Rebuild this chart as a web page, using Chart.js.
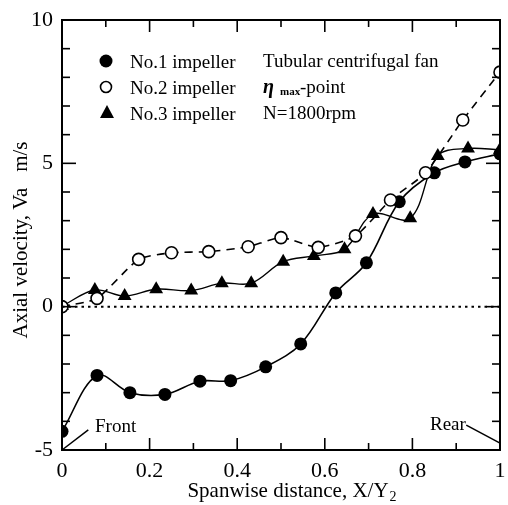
<!DOCTYPE html>
<html>
<head>
<meta charset="utf-8">
<script src="https://cdn.jsdelivr.net/npm/chart.js@4.4.1/dist/chart.umd.min.js"></script>
<style>
  html, body { margin: 0; padding: 0; background: #fff; }
  #wrap { width: 508px; height: 505px; }
</style>
</head>
<body>
<div id="wrap"><canvas id="axialChart" width="508" height="505"></canvas></div>
<script>
// spanwise position X/Y2 and axial velocity Va (m/s) for each impeller
var imp1X = [0, 0.08, 0.155, 0.235, 0.315, 0.385, 0.465, 0.545, 0.625, 0.695, 0.77, 0.85, 0.92, 1.0];
var imp1Va = [-4.35, -2.4, -3.0, -3.06, -2.6, -2.58, -2.1, -1.3, 0.48, 1.53, 3.66, 4.67, 5.05, 5.33];

var imp2X = [0, 0.08, 0.175, 0.25, 0.335, 0.425, 0.5, 0.585, 0.67, 0.75, 0.83, 0.915, 1.0];
var imp2Va = [0, 0.29, 1.65, 1.88, 1.92, 2.09, 2.41, 2.07, 2.47, 3.72, 4.67, 6.51, 8.18];

var imp3X = [0, 0.075, 0.143, 0.215, 0.295, 0.365, 0.432, 0.505, 0.575, 0.645, 0.71, 0.795, 0.858, 0.927, 1.0];
var imp3Va = [0.02, 0.58, 0.37, 0.61, 0.56, 0.82, 0.82, 1.57, 1.77, 2.0, 3.23, 3.08, 5.26, 5.52, 5.47];

var seriesNames = ["No.1 impeller", "No.2 impeller", "No.3 impeller"];
var noteLines = ["Tubular centrifugal fan", "-point", "N=1800rpm"];

// axis ticks
var xMajor = [0, 0.2, 0.4, 0.6, 0.8, 1];
var xMinor = [0.1, 0.3, 0.5, 0.7, 0.9];
var yMajor = [-5, 0, 5, 10];
var yMinor = [-4, -3, -2, -1, 1, 2, 3, 4, 6, 7, 8, 9];

// "Front" / "Rear" leader lines (data units)
var frontLead = [[0, -5], [0.06, -4.3]];
var rearLead = [[0.923, -4.13], [1.0, -4.76]];

var serif = "'Liberation Serif', 'DejaVu Serif', serif";

function toPoints(xs, ys) {
    var pts = [];
    for (var i = 0; i < xs.length; i++) {
        pts.push({ x: xs[i], y: ys[i] });
    }
    return pts;
}

function line(ctx, x1, y1, x2, y2) {
    ctx.beginPath();
    ctx.moveTo(x1, y1);
    ctx.lineTo(x2, y2);
    ctx.stroke();
}

// frame, inward ticks, legend, notes and titles
var decorations = {
    id: 'decorations',
    afterDraw: function (chart) {
        var ctx = chart.ctx;
        var a = chart.chartArea;
        var xs = chart.scales.x, ys = chart.scales.y;
        ctx.save();
        ctx.strokeStyle = '#000';
        ctx.fillStyle = '#000';

        ctx.lineWidth = 2;
        ctx.strokeRect(a.left, a.top, a.right - a.left, a.bottom - a.top);

        ctx.lineWidth = 1.6;
        xMajor.forEach(function (v) {
            var p = xs.getPixelForValue(v);
            line(ctx, p, a.bottom, p, a.bottom - 12);
            line(ctx, p, a.top, p, a.top + 12);
        });
        xMinor.forEach(function (v) {
            var p = xs.getPixelForValue(v);
            line(ctx, p, a.bottom, p, a.bottom - 7);
            line(ctx, p, a.top, p, a.top + 7);
        });
        yMajor.forEach(function (v) {
            var p = ys.getPixelForValue(v);
            line(ctx, a.left, p, a.left + 14, p);
            line(ctx, a.right, p, a.right - 14, p);
        });
        yMinor.forEach(function (v) {
            var p = ys.getPixelForValue(v);
            line(ctx, a.left, p, a.left + 8, p);
            line(ctx, a.right, p, a.right - 8, p);
        });

        // leader lines
        ctx.lineWidth = 1.5;
        [frontLead, rearLead].forEach(function (ld) {
            line(ctx, xs.getPixelForValue(ld[0][0]), ys.getPixelForValue(ld[0][1]),
                      xs.getPixelForValue(ld[1][0]), ys.getPixelForValue(ld[1][1]));
        });
        ctx.font = '19px ' + serif;
        ctx.textBaseline = 'alphabetic';
        ctx.textAlign = 'left';
        ctx.fillText('Front', 95, 432);
        ctx.fillText('Rear', 430, 430);

        // legend
        var rows = [61, 87, 113];
        ctx.lineWidth = 1.6;
        ctx.beginPath(); ctx.arc(106, rows[0], 6.5, 0, Math.PI * 2); ctx.fill();
        ctx.beginPath(); ctx.arc(106, rows[1], 5.5, 0, Math.PI * 2); ctx.stroke();
        ctx.beginPath();
        ctx.moveTo(107, rows[2] - 8); ctx.lineTo(114, rows[2] + 5); ctx.lineTo(100, rows[2] + 5);
        ctx.closePath(); ctx.fill();
        ctx.font = '19px ' + serif;
        seriesNames.forEach(function (s, i) {
            ctx.fillText(s, 130, rows[i] + 7);
        });

        // notes
        ctx.fillText(noteLines[0], 263, 67);
        ctx.font = 'italic bold 20px ' + serif;
        ctx.fillText('\u03b7', 263, 93);
        ctx.font = 'bold 11px ' + serif;
        ctx.fillText('max', 280, 95);
        ctx.font = '19px ' + serif;
        ctx.fillText(noteLines[1], 300, 93);
        ctx.fillText(noteLines[2], 263, 119);

        // axis titles
        ctx.font = '21px ' + serif;
        ctx.textAlign = 'left';
        var xt = 'Spanwise distance, X/Y';
        var w = ctx.measureText(xt).width;
        var x0 = 293 - (w + 10) / 2;
        ctx.fillText(xt, x0, 497);
        ctx.font = '14px ' + serif;
        ctx.fillText('2', x0 + w + 1, 501);

        ctx.font = '21px ' + serif;
        ctx.translate(27, 240);
        ctx.rotate(-Math.PI / 2);
        ctx.textAlign = 'center';
        ctx.fillText('Axial velocity, Va   m/s', 0, 0);
        ctx.restore();
    }
};

var ctx = document.getElementById('axialChart');
var chart = new Chart(ctx, {
    type: 'line',
    data: {
        datasets: [
            {
                label: 'zero',
                data: toPoints([0, 1], [0, 0]),
                borderColor: '#000',
                borderWidth: 2,
                borderDash: [2.5, 4],
                pointRadius: 0,
                tension: 0
            },
            {
                label: seriesNames[1],
                data: toPoints(imp2X, imp2Va),
                borderColor: '#000',
                borderWidth: 1.6,
                borderDash: [8, 6],
                backgroundColor: '#fff',
                pointBackgroundColor: '#fff',
                pointBorderColor: '#000',
                pointBorderWidth: 1.6,
                pointRadius: 6,
                tension: 0.2
            },
            {
                label: seriesNames[2],
                data: toPoints(imp3X, imp3Va),
                borderColor: '#000',
                borderWidth: 1.4,
                pointStyle: 'triangle',
                pointBackgroundColor: '#000',
                pointBorderColor: '#000',
                pointBorderWidth: 0,
                pointRadius: 8,
                tension: 0.35
            },
            {
                label: seriesNames[0],
                data: toPoints(imp1X, imp1Va),
                borderColor: '#000',
                borderWidth: 1.6,
                pointBackgroundColor: '#000',
                pointBorderColor: '#000',
                pointBorderWidth: 0,
                pointRadius: 6.5,
                tension: 0.35
            }
        ]
    },
    options: {
        responsive: false,
        animation: false,
        layout: { padding: { top: 20, right: 6, left: 0, bottom: 0 } },
        plugins: { legend: { display: false }, tooltip: { enabled: false } },
        scales: {
            x: {
                type: 'linear',
                min: 0,
                max: 1,
                grid: { display: false },
                border: { display: false },
                ticks: {
                    stepSize: 0.2,
                    color: '#000',
                    padding: 0,
                    maxRotation: 0,
                    font: { family: serif, size: 22 },
                    callback: function (v) { return String(Math.round(v * 10) / 10); }
                },
                afterFit: function (s) { s.height = 55; s.paddingLeft = 0; s.paddingRight = 0; }
            },
            y: {
                min: -5,
                max: 10,
                grid: { display: false },
                border: { display: false },
                ticks: {
                    stepSize: 5,
                    color: '#000',
                    padding: 1,
                    font: { family: serif, size: 22 }
                },
                afterFit: function (s) { s.width = 62; s.paddingTop = 0; s.paddingBottom = 0; }
            }
        }
    },
    plugins: [decorations]
});
</script>
</body>
</html>
